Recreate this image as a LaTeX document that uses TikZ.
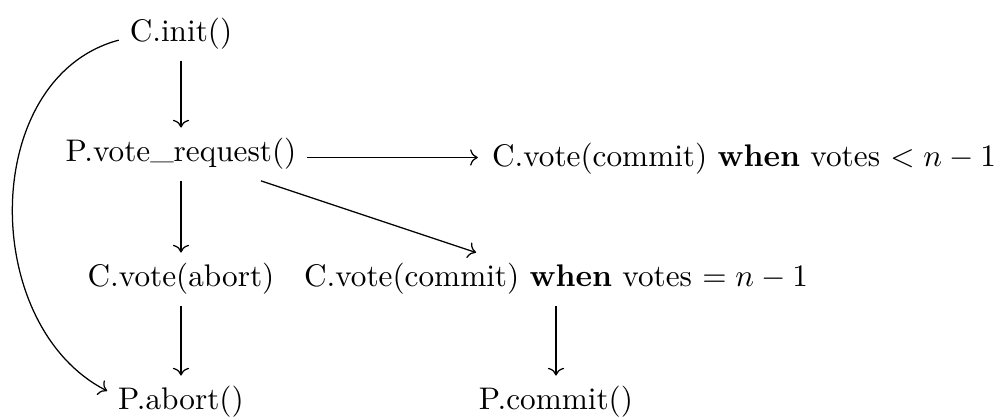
\documentclass[tikz,border=0pt]{standalone}
\usetikzlibrary{cd}
\begin{document}
\begin{tikzpicture}[x=0.32pt,y=-0.32pt,
  lbl/.style={anchor=base, inner sep=0.333em},
  arr/.style={-{cm to}, line width=0.4pt}]
\useasboundingbox (0,0) rectangle (995,419);

% states of the two-phase commit protocol
\node[lbl] (init)   at (181,41.7) {C.init()};
\node[lbl] (req)    at (181,162)  {P.vote\raisebox{1pt}{\_}request()};
\node[lbl, anchor=base west] (less) at (481,167)
  {C.vote(commit) \textbf{when} votes $< n-1$};
\node[lbl] (vabort) at (181,287)  {C.vote(abort)};
\node[lbl] (veq)    at (556,287)
  {C.vote(commit) \textbf{when} votes $= n-1$};
\node[lbl] (pabort) at (181,410)  {P.abort()};
\node[lbl] (pcommit) at (556,410) {P.commit()};

% transitions
\draw[arr] (init) -- (req);
\draw[arr] (req.east |- 0,157.5) -- ([xshift=-1pt]less.west |- 0,157.5);
\draw[arr] (req) -- (veq);
\draw[arr] (req) -- (vabort);
\draw[arr] (vabort) -- (pabort);
\draw[arr] (veq.south -| pcommit) -- (pcommit);
\draw[arr] ([yshift=-2pt]init.west) to[out=195, in=153, looseness=1.05]
  ([yshift=3.6pt]pabort.west);
\end{tikzpicture}
\end{document}
